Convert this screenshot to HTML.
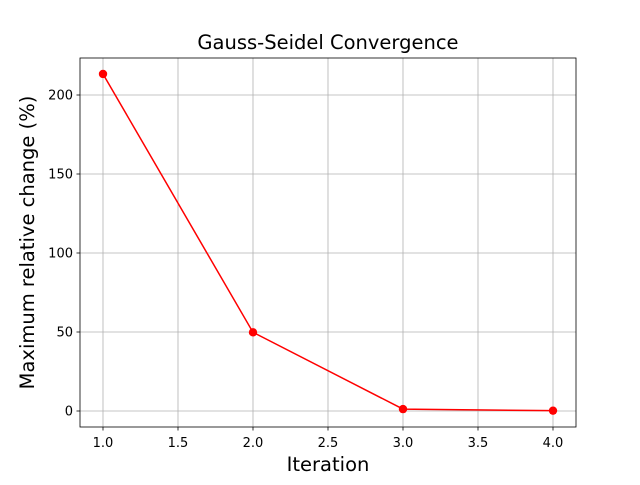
<!DOCTYPE html>
<html><head><meta charset="utf-8"><style>
body{margin:0;background:#fff}
svg{font-family:"DejaVu Sans","Liberation Sans",sans-serif}
</style></head><body>
<svg id="chart" width="640" height="480"></svg>
<script>
const iterations=[1,2,3,4];
const changes=[213.3,49.8,1.2,0.2];
const xTicks=[1.0,1.5,2.0,2.5,3.0,3.5,4.0];
const xTickLabels=["1.0","1.5","2.0","2.5","3.0","3.5","4.0"];
const yTicks=[0,50,100,150,200];
const yTickLabels=["0","50","100","150","200"];
const NS="http://www.w3.org/2000/svg";
const svg=document.getElementById('chart');
const L=80,R=576,T=58,B=427;
const sx=v=>103+(v-1)*150;
const sy=v=>411-v*1.58;
function mk(t,a,p){const e=document.createElementNS(NS,t);for(const k in a)e.setAttribute(k,a[k]);(p||svg).appendChild(e);return e;}
xTicks.forEach((v,i)=>{
 const g=mk('line',{x1:sx(v),x2:sx(v),y1:T,y2:B,stroke:'#b0b0b0','stroke-width':0.8});
 
 
 const tk=mk('line',{x1:sx(v),x2:sx(v),y1:B,y2:B+3.5,stroke:'#000','stroke-width':0.8});
 
 
 const t=mk('text',{x:sx(v),y:B+20,'text-anchor':'middle','font-size':13});
 t.textContent=xTickLabels[i];
 
 
});
yTicks.forEach((v,i)=>{
 const g=mk('line',{x1:L,x2:R,y1:sy(v),y2:sy(v),stroke:'#b0b0b0','stroke-width':0.8});
 
 
 const tk=mk('line',{x1:L-3.5,x2:L,y1:sy(v),y2:sy(v),stroke:'#000','stroke-width':0.8});
 
 
 const t=mk('text',{x:L-7,y:sy(v)+4.5,'text-anchor':'end','font-size':13});
 t.textContent=yTickLabels[i];
 
 
});
const pl=mk('polyline',{points:iterations.map((x,i)=>sx(x)+','+sy(changes[i])).join(' '),fill:'none',stroke:'#ff0000','stroke-width':1.5});


iterations.forEach((x,i)=>{
 const c=mk('circle',{cx:sx(x),cy:sy(changes[i]),r:4.2,fill:'#ff0000'});
 
 
});
const fr=mk('rect',{x:L,y:T,width:R-L,height:B-T,fill:'none',stroke:'#000','stroke-width':0.8});


const ti=mk('text',{x:(L+R)/2,y:49,'text-anchor':'middle','font-size':19.5});
ti.textContent='Gauss-Seidel Convergence';


const xl=mk('text',{x:(L+R)/2,y:471,'text-anchor':'middle','font-size':19.5});
xl.textContent='Iteration';


const yl=mk('text',{x:34,y:(T+B)/2,'text-anchor':'middle','font-size':19.5,transform:'rotate(-90 34 '+(T+B)/2+')'});
yl.textContent='Maximum relative change (%)';


</script>
</body></html>
